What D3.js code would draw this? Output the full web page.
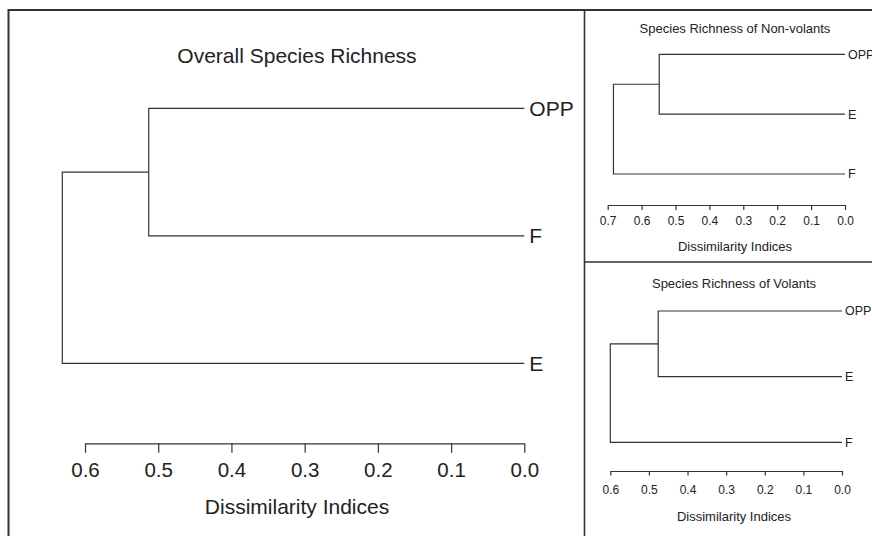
<!DOCTYPE html>
<html>
<head>
<meta charset="utf-8">
<script src="https://cdn.jsdelivr.net/npm/d3@7"></script>
<style>
	body { margin: 0; background: #fff; }
	svg { display: block; font-family: "Liberation Sans", Arial, Helvetica, sans-serif; }
	text { fill: #222; }
</style>
</head>
<body>
<div id="chart"></div>
<script>
// leaf order (top to bottom) and merge heights of each dendrogram
const overallLeaves = ["OPP", "F", "E"];
const overallMerges = [0.513, 0.631];
const overallTicks = [0.6, 0.5, 0.4, 0.3, 0.2, 0.1, 0.0];

const nonVolantLeaves = ["OPP", "E", "F"];
const nonVolantMerges = [0.548, 0.683];
const nonVolantTicks = [0.7, 0.6, 0.5, 0.4, 0.3, 0.2, 0.1, 0.0];

const volantLeaves = ["OPP", "E", "F"];
const volantMerges = [0.476, 0.6];
const volantTicks = [0.6, 0.5, 0.4, 0.3, 0.2, 0.1, 0.0];

const axisTitle = "Dissimilarity Indices";

const width = 872;
const height = 536;

const svg = d3
	.select("#chart")
	.append("svg")
	.attr("width", width)
	.attr("height", height);

// panel frames (figure runs past the right and bottom edges)
const frame = svg.append("g").attr("stroke", "#333").attr("fill", "none");
frame.append("rect")
	.attr("x", 8.5).attr("y", 10)
	.attr("width", 900).attr("height", 560)
	.attr("stroke-width", 2);
frame.append("line")
	.attr("x1", 584.5).attr("x2", 584.5)
	.attr("y1", 10).attr("y2", height + 10)
	.attr("stroke-width", 1.6);
frame.append("line")
	.attr("x1", 584.5).attr("x2", width + 10)
	.attr("y1", 262).attr("y2", 262)
	.attr("stroke-width", 1.6);

// build a nested tree: first two leaves join, then each next leaf joins on
function buildTree(leaves, merges) {
	let node = { name: leaves[0], h: 0 };
	leaves.slice(1).forEach((leaf, i) => {
		node = { h: merges[i], children: [node, { name: leaf, h: 0 }] };
	});
	return d3.hierarchy(node);
}

function drawPanel(opt) {
	const g = svg.append("g");

	const x = d3.scaleLinear().domain(opt.domain).range(opt.xRange);
	const y = d3.scalePoint().domain(opt.leaves).range(opt.yRange);

	const root = buildTree(opt.leaves, opt.merges);
	// leaf y from the scale, inner node y = middle of its children
	root.eachAfter((d) => {
		d.py = d.children ? d3.mean(d.children, (c) => c.py) : y(d.data.name);
	});

	g.append("text")
		.attr("x", opt.titleX)
		.attr("y", opt.titleY)
		.attr("text-anchor", "middle")
		.attr("font-size", opt.titleSize)
		.text(opt.title);

	g.append("g")
		.selectAll("path")
		.data(root.descendants().filter((d) => d.children))
		.enter()
		.append("path")
		.attr("fill", "none")
		.attr("stroke", "#333")
		.attr("stroke-width", 1.2)
		.attr("d", (d) => {
			const [a, b] = d.children;
			return `M${x(a.data.h)},${a.py}H${x(d.data.h)}V${b.py}H${x(b.data.h)}`;
		});

	g.append("g")
		.selectAll("text")
		.data(root.leaves())
		.enter()
		.append("text")
		.attr("x", (d) => x(d.data.h) + opt.labelGap)
		.attr("y", (d) => d.py)
		.attr("dy", "0.35em")
		.attr("font-size", opt.leafSize)
		.text((d) => d.data.name);

	const axis = g.append("g")
		.attr("transform", `translate(0,${opt.axisY})`)
		.call(
			d3.axisBottom(x)
				.tickValues(opt.ticks)
				.tickFormat(d3.format(".1f"))
				.tickSize(opt.tickSize)
				.tickSizeOuter(0)
				.tickPadding(opt.tickPad)
		);
	axis.selectAll("path, line").attr("stroke", "#333").attr("stroke-width", 1.2);
	axis.selectAll("text")
		.attr("font-size", opt.tickFont)
		.attr("font-family", null)
		.attr("fill", "#222");
	axis.attr("font-family", null);

	g.append("text")
		.attr("x", opt.titleX)
		.attr("y", opt.axisTitleY)
		.attr("text-anchor", "middle")
		.attr("font-size", opt.axisTitleSize)
		.text(axisTitle);
}

drawPanel({
	title: "Overall Species Richness",
	leaves: overallLeaves,
	merges: overallMerges,
	ticks: overallTicks,
	domain: [0.6, 0],
	xRange: [85, 524.3],
	yRange: [108.3, 363.3],
	titleX: 297,
	titleY: 63,
	titleSize: 21,
	leafSize: 21,
	labelGap: 5,
	axisY: 443.3,
	tickSize: 9.5,
	tickPad: 9.5,
	tickFont: 20.5,
	axisTitleY: 514,
	axisTitleSize: 21
});

drawPanel({
	title: "Species Richness of Non-volants",
	leaves: nonVolantLeaves,
	merges: nonVolantMerges,
	ticks: nonVolantTicks,
	domain: [0.7, 0],
	xRange: [607.7, 845],
	yRange: [54.3, 174],
	titleX: 735,
	titleY: 33,
	titleSize: 13,
	leafSize: 12.5,
	labelGap: 3,
	axisY: 205,
	tickSize: 5,
	tickPad: 6.5,
	tickFont: 12,
	axisTitleY: 250.5,
	axisTitleSize: 13
});

drawPanel({
	title: "Species Richness of Volants",
	leaves: volantLeaves,
	merges: volantMerges,
	ticks: volantTicks,
	domain: [0.6, 0],
	xRange: [610.3, 842],
	yRange: [311, 442.3],
	titleX: 734,
	titleY: 288,
	titleSize: 13,
	leafSize: 12.5,
	labelGap: 3,
	axisY: 471,
	tickSize: 4.5,
	tickPad: 9.5,
	tickFont: 12,
	axisTitleY: 521,
	axisTitleSize: 13
});
</script>
</body>
</html>
